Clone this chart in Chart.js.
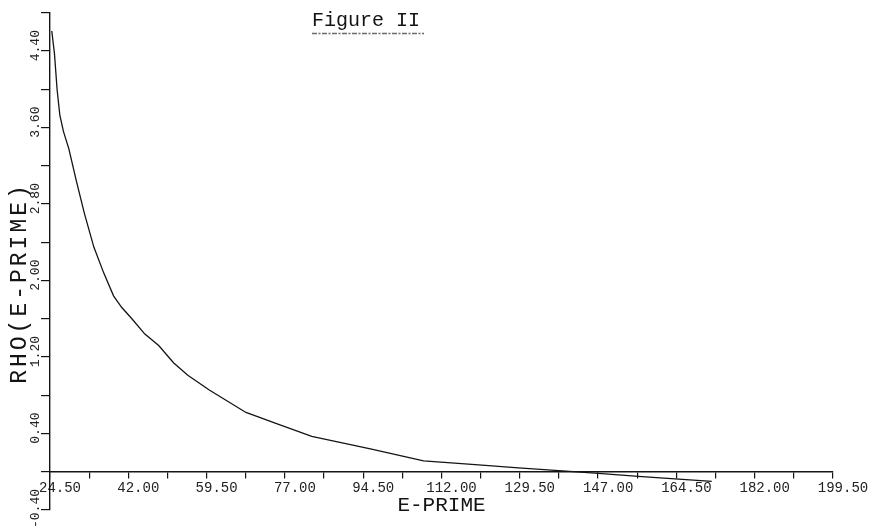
<!DOCTYPE html>
<html>
<head>
<meta charset="utf-8">
<script src="https://cdn.jsdelivr.net/npm/chart.js@4.4.1/dist/chart.umd.min.js"></script>
<style>
  html, body { margin: 0; padding: 0; background: #ffffff; }
  #c { display: block; }
</style>
</head>
<body>
<canvas id="c" width="875" height="529"></canvas>
<script>
// ---- data ----
const ePrime = [24.9, 25.5, 26.1, 26.7, 27.5, 28.7, 30.4, 32.2, 34.3, 36.5, 38.7, 40.5, 42.8, 45.7, 48.8,
                52.1, 55.3, 60.1, 68.3, 75.6, 83.0, 96.1, 108.0, 120.3, 129.2, 138.2, 147.1, 156.0, 165.0, 172.4];
const rho = [4.61, 4.37, 3.99, 3.73, 3.56, 3.38, 3.04, 2.70, 2.35, 2.08, 1.84, 1.72, 1.60, 1.44, 1.32,
             1.14, 1.01, 0.855, 0.62, 0.495, 0.37, 0.24, 0.113, 0.073, 0.04, 0.011, -0.016, -0.049, -0.077, -0.10];

// tick labels (every other tick carries a label)
const xTickLabels = ['24.50', '42.00', '59.50', '77.00', '94.50', '112.00', '129.50', '147.00', '164.50', '182.00', '199.50'];
const yTickLabels = ['-0.40', '0.40', '1.20', '2.00', '2.80', '3.60', '4.40'];

const titleText = 'Figure II';
const xTitle = 'E-PRIME';
const yTitle = 'RHO(E-PRIME)';

const FONT = '"Liberation Mono", "DejaVu Sans Mono", monospace';
const INK = '#141414';

const points = ePrime.map((x, i) => ({ x: x, y: rho[i] }));

const annotations = {
  id: 'annotations',
  afterDraw(chart) {
    const ctx = chart.ctx;
    ctx.save();
    ctx.fillStyle = INK;
    // figure title
    ctx.font = '20px ' + FONT;
    ctx.textAlign = 'center';
    ctx.textBaseline = 'alphabetic';
    const tx = 366, ty = 26;
    ctx.fillText(titleText, tx, ty);
    const w = ctx.measureText(titleText).width;
    ctx.strokeStyle = '#6a6a6a';
    ctx.lineWidth = 1.3;
    ctx.setLineDash([5, 1.5, 2, 1.5]);
    ctx.beginPath();
    ctx.moveTo(tx - w / 2, 33.5);
    ctx.lineTo(tx + w / 2 + 4, 33.5);
    ctx.stroke();
    ctx.setLineDash([]);
    // y axis title
    ctx.translate(20, 283);
    ctx.rotate(-Math.PI / 2);
    ctx.font = '23px ' + FONT;
    if ('letterSpacing' in ctx) ctx.letterSpacing = '3px';
    ctx.textAlign = 'center';
    ctx.textBaseline = 'middle';
    ctx.fillText(yTitle, 0, 0);
    ctx.restore();
  }
};

new Chart(document.getElementById('c'), {
  type: 'line',
  data: {
    datasets: [{
      data: points,
      borderColor: INK,
      borderWidth: 1.3,
      pointRadius: 0,
      tension: 0,
      fill: false
    }]
  },
  options: {
    responsive: false,
    animation: false,
    layout: { padding: { left: 15.4, right: 42, top: 8, bottom: 19 } },
    plugins: {
      legend: { display: false },
      tooltip: { enabled: false },
      title: { display: false }
    },
    scales: {
      x: {
        type: 'linear',
        position: { y: 0 },
        min: 24.5,
        max: 199.5,
        grid: { drawOnChartArea: false, drawTicks: true, tickLength: 6, color: INK, lineWidth: 1.2 },
        border: { display: true, color: INK, width: 1.4 },
        ticks: {
          stepSize: 8.75,
          autoSkip: false,
          maxRotation: 0,
          minRotation: 0,
          labelOffset: 10,
          padding: 2,
          color: '#222',
          font: { family: FONT, size: 14 },
          callback: (v, i) => (i % 2 === 0 ? xTickLabels[i / 2] : '')
        },
        title: {
          display: true,
          text: xTitle,
          color: INK,
          font: { family: FONT, size: 21, lineHeight: 1 },
          padding: { top: -4, bottom: 0 }
        }
      },
      y: {
        type: 'linear',
        position: 'left',
        min: -0.4,
        max: 4.8,
        grid: { drawOnChartArea: false, drawTicks: true, tickLength: 9, color: INK, lineWidth: 1.2 },
        border: { display: true, color: INK, width: 1.4 },
        ticks: {
          stepSize: 0.4,
          autoSkip: false,
          minRotation: 90,
          maxRotation: 90,
          crossAlign: 'near',
          padding: 5,
          labelOffset: -21,
          color: '#222',
          font: { family: FONT, size: 13 },
          callback: (v, i) => (i % 2 === 0 ? yTickLabels[i / 2] : '')
        }
      }
    }
  },
  plugins: [annotations]
});
</script>
</body>
</html>
